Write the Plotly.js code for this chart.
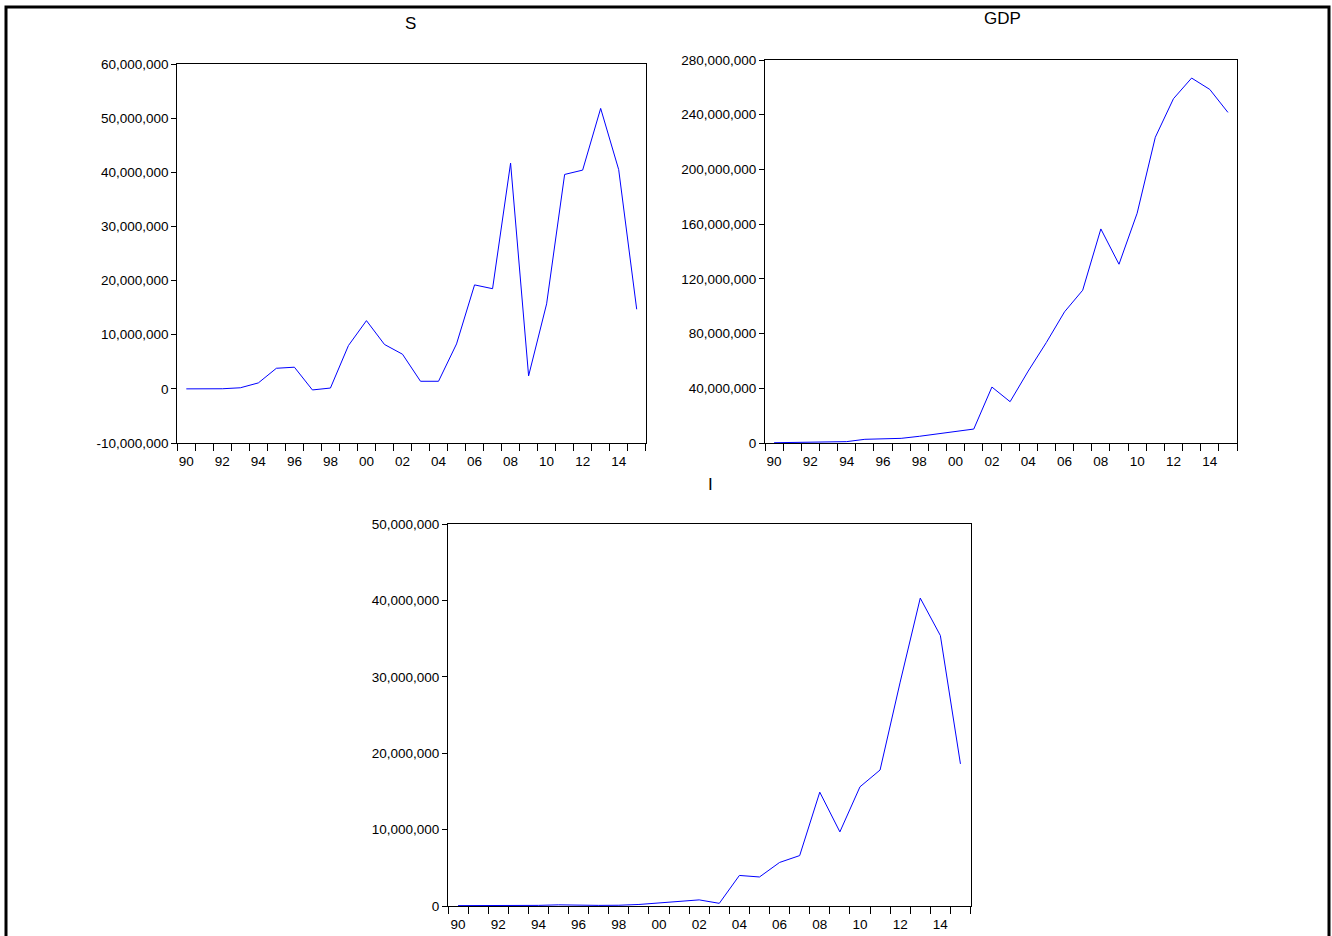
<!DOCTYPE html>
<html>
<head>
<meta charset="utf-8">
<script src="https://cdn.plot.ly/plotly-3.0.1.min.js"></script>
<style>html,body{margin:0;padding:0;background:#fff;}#chart{width:1332px;height:936px;}</style>
</head>
<body>
<div id="chart"></div>
<script>
// ---- data ----
var years = [1990,1991,1992,1993,1994,1995,1996,1997,1998,1999,2000,2001,2002,2003,2004,2005,2006,2007,2008,2009,2010,2011,2012,2013,2014,2015];
var S = [0.0e6,-0.05e6,0.02e6,0.2e6,1.1e6,3.8e6,4.0e6,-0.2e6,0.15e6,8.0e6,12.6e6,8.2e6,6.4e6,1.4e6,1.4e6,8.3e6,19.2e6,18.5e6,41.7e6,2.4e6,15.7e6,39.6e6,40.4e6,51.8e6,40.5e6,14.7e6];
var GDP = [0.2e6,0.3e6,0.4e6,0.6e6,1.0e6,2.7e6,2.9e6,3.4e6,4.9e6,6.8e6,8.3e6,10.2e6,40.9e6,30.2e6,52.6e6,73.5e6,95.9e6,111.7e6,156.5e6,130.7e6,168.0e6,223.5e6,251.7e6,266.8e6,258.5e6,241.7e6];
var I = [0.05e6,0.05e6,0.05e6,0.05e6,0.08e6,0.15e6,0.08e6,0.08e6,0.1e6,0.2e6,0.4e6,0.6e6,0.8e6,0.35e6,4.0e6,3.8e6,5.7e6,6.6e6,14.9e6,9.7e6,15.6e6,17.8e6,29.3e6,40.3e6,35.4e6,18.6e6];

var xTickVals = [1990,1992,1994,1996,1998,2000,2002,2004,2006,2008,2010,2012,2014];
var xTickText = ['90','92','94','96','98','00','02','04','06','08','10','12','14'];

var sTickVals = [-10e6,0,10e6,20e6,30e6,40e6,50e6,60e6];
var sTickText = ['-10,000,000','0','10,000,000','20,000,000','30,000,000','40,000,000','50,000,000','60,000,000'];
var gTickVals = [0,40e6,80e6,120e6,160e6,200e6,240e6,280e6];
var gTickText = ['0','40,000,000','80,000,000','120,000,000','160,000,000','200,000,000','240,000,000','280,000,000'];
var iTickVals = [0,10e6,20e6,30e6,40e6,50e6];
var iTickText = ['0','10,000,000','20,000,000','30,000,000','40,000,000','50,000,000'];

var titles = ['S','GDP','I'];

// ---- layout helpers ----
var W = 1332, H = 936;
function xd(a,b){return [a/W,b/W];}
function yd(top,bot){return [1-bot/H,1-top/H];}
var FONT = 'Liberation Sans, Arial, sans-serif';

function xaxis(dom, anchor){
  return {domain:dom, anchor:anchor, range:[1989.5,2015.5], tickmode:'array', tickvals:xTickVals, ticktext:xTickText,
    ticks:'outside', ticklen:6, tickcolor:'rgba(0,0,0,0)', showgrid:false, zeroline:false,
    showline:true, mirror:true, linecolor:'black', linewidth:1,
    tickfont:{family:FONT,size:13.5,color:'black'},
    minor:{tickmode:'linear', tick0:1989.5, dtick:1, ticks:'outside', ticklen:7, tickwidth:1, tickcolor:'black', showgrid:false}};
}
function yaxis(dom, anchor, range, tv, tt){
  return {domain:dom, anchor:anchor, range:range, tickmode:'array', tickvals:tv, ticktext:tt,
    ticks:'outside', ticklen:5, tickcolor:'black', tickwidth:1, showgrid:false, zeroline:false,
    showline:true, mirror:true, linecolor:'black', linewidth:1,
    tickfont:{family:FONT,size:13.5,color:'black'}};
}

var line = {color:'rgb(0,0,255)', width:1};
var data = [
  {x:years, y:S, type:'scatter', mode:'lines', line:line, xaxis:'x', yaxis:'y', name:titles[0]},
  {x:years, y:GDP, type:'scatter', mode:'lines', line:line, xaxis:'x2', yaxis:'y2', name:titles[1]},
  {x:years, y:I, type:'scatter', mode:'lines', line:line, xaxis:'x3', yaxis:'y3', name:titles[2]}
];

function title(t, px, py){
  return {text:t, x:px/W, y:1-py/H, xref:'paper', yref:'paper', xanchor:'center', yanchor:'middle', showarrow:false,
    font:{family:FONT,size:17,color:'black'}};
}

var layout = {
  width:W, height:H, margin:{l:0,r:0,t:0,b:0}, showlegend:false,
  paper_bgcolor:'white', plot_bgcolor:'white',
  xaxis: xaxis(xd(177.3,645.7),'y'),
  yaxis: yaxis(yd(64,443),'x',[-10e6,60e6],sTickVals,sTickText),
  xaxis2: xaxis(xd(765,1237),'y2'),
  yaxis2: yaxis(yd(60,443),'x2',[0,280e6],gTickVals,gTickText),
  xaxis3: xaxis(xd(448,970.5),'y3'),
  yaxis3: yaxis(yd(524,906),'x3',[0,50e6],iTickVals,iTickText),
  annotations:[
    title(titles[0], 410, 23),
    title(titles[1], 1002, 18),
    title(titles[2], 710, 484)
  ],
  shapes:[
    {type:'rect', xref:'paper', yref:'paper', x0:6/W, x1:1329/W, y0:-0.02, y1:1-7/H, line:{color:'black', width:3}, fillcolor:'rgba(0,0,0,0)'}
  ]
};

Plotly.newPlot('chart', data, layout, {staticPlot:true, displayModeBar:false});
</script>
</body>
</html>
